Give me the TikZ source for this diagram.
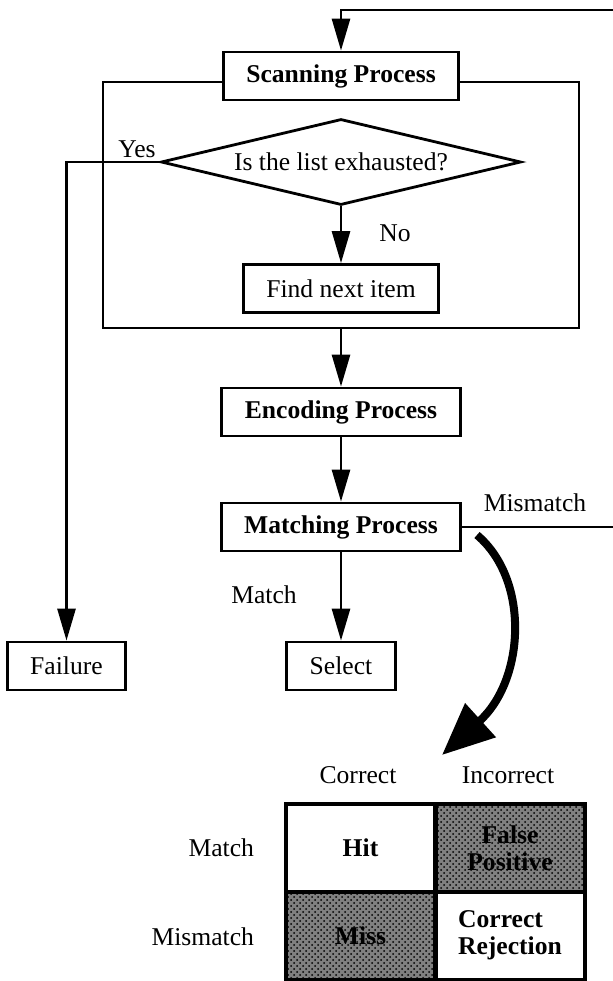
\documentclass[tikz,border=0pt]{standalone}
\usepackage{fontspec}
\setmainfont{Liberation Serif}
\usetikzlibrary{arrows.meta,shapes.geometric,patterns}

\begin{document}
\begin{tikzpicture}[x=0.5pt, y=-0.5pt, line width=1.4pt,
   font=\fontsize{12.8}{13.5}\selectfont,
   proc/.style={draw, fill=white, inner xsep=11.5pt, minimum height=24pt},
   bold/.style={font=\fontsize{12.8}{13.5}\selectfont\bfseries},
   flow/.style={-{Triangle[length=16pt,width=9pt]}},
   tabcell/.style={draw, line width=2pt, minimum width=74.5pt, minimum height=44pt, align=center, bold},
   greycell/.style={tabcell, preaction={fill=black!50}, pattern=crosshatch dots}]
   \useasboundingbox (0,0) rectangle (612,981);
   \node[draw, minimum width=238pt, minimum height=123pt] (frame) at (341,205) {};
   \node[proc, bold] (scan) at (341,76) {Scanning Process};
   \node[diamond, draw, aspect=4.2, minimum width=180pt, minimum height=43pt, inner sep=0pt] (exh) at (341,162) {Is the list exhausted?};
   \node[proc] (find) at (341,288.5) {Find next item};
   \node[proc, bold] (enc) at (341,412) {Encoding Process};
   \node[proc, bold] (match) at (341,527) {Matching Process};
   \node[proc] (fail) at (66.5,666) {Failure};
   \node[proc] (sel) at (341,666) {Select};
   \node (yes) at (137,149) {Yes};
   \node (no) at (395,233) {No};
   \node (mism) at (535,503) {Mismatch};
   \node (mat) at (264,595) {Match};
   \coordinate (loopr) at (630,10);
   \draw[flow] (exh) -- (find);
   \draw[flow] (exh.west) -| (fail.north);
   \draw[flow] (frame.south) -- (enc.north);
   \draw[flow] (enc) -- (match);
   \draw[flow] (match) -- (sel);
   \draw[flow] (match.east) -| (loopr) -| (scan.north);
   \coordinate (cs) at (477,535);
   \coordinate (ce) at (442,755);
   \draw[line width=4pt, -{Triangle[length=26pt,width=22pt]}] (cs) .. controls (530,580) and (525,680) .. (ce);
   \node (corr) at (358,775) {Correct};
   \node (inc) at (508,775) {Incorrect};
   \node[tabcell] (hit) at (360.5,848) {Hit};
   \node[greycell] (fpos) at (510,848) {False\\Positive};
   \node[greycell] (miss) at (360.5,935.5) {Miss};
   \node[tabcell, align=left] (crej) at (510,935.5) {Correct\\Rejection};
   \node[anchor=east] (rmat) at (262,848) {Match};
   \node[anchor=east] (rmis) at (262,937) {Mismatch};
\end{tikzpicture}
\end{document}
